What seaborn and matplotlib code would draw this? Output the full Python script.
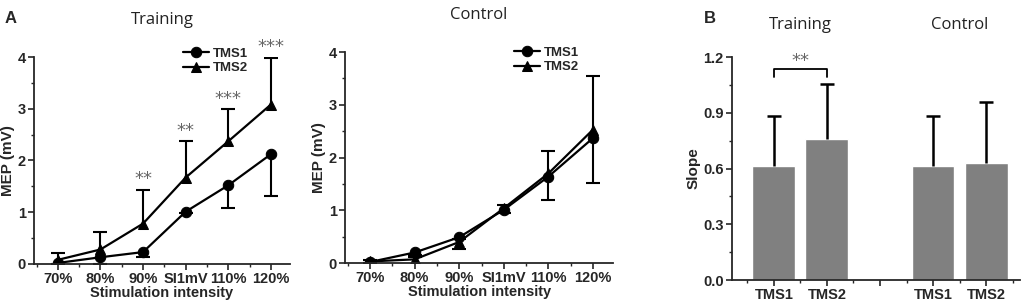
import numpy as np
import pandas as pd
import matplotlib.pyplot as plt
import seaborn as sns
from matplotlib.ticker import MultipleLocator

# ---- data ----
intensity = ["70%", "80%", "90%", "SI1mV", "110%", "120%"]

train_tms1 = [0.02, 0.13, 0.23, 1.01, 1.52, 2.12]
train_tms1_lo = [0.02, 0.13, 0.09, 0.03, 0.44, 0.81]
train_tms2 = [0.08, 0.28, 0.78, 1.67, 2.37, 3.08]
train_tms2_hi = [0.13, 0.34, 0.65, 0.70, 0.62, 0.91]
train_stars = ["", "", "**", "**", "***", "***"]

ctrl_tms1 = [0.02, 0.20, 0.49, 1.01, 1.64, 2.37]
ctrl_tms1_lo = [0.01, 0.05, 0.23, 0.06, 0.44, 0.85]
ctrl_tms2 = [0.03, 0.07, 0.40, 1.04, 1.70, 2.53]
ctrl_tms2_hi = [0.02, 0.04, 0.05, 0.06, 0.43, 1.02]

slope_groups = ["Training TMS1", "Training TMS2", "Control TMS1", "Control TMS2"]
slope_vals = [0.615, 0.76, 0.615, 0.63]
slope_err = [0.27, 0.295, 0.27, 0.33]
slope_ticklabels = ["TMS1", "TMS2", "", "TMS1", "TMS2"]

sns.set_style("ticks")
plt.rcParams['font.family'] = ['Liberation Sans', 'DejaVu Sans']
plt.rcParams['axes.linewidth'] = 1.3

fig = plt.figure(figsize=(10.21, 3.08), dpi=100)
ax1 = fig.add_axes([0.0333, 0.1429, 0.2507, 0.672])
ax2 = fig.add_axes([0.338, 0.146, 0.2625, 0.685])
ax3 = fig.add_axes([0.717, 0.0909, 0.282, 0.724])

title_font = dict(family='Open Sans', fontsize=12, color='#222222')
star_font = dict(family='DejaVu Sans', fontsize=13, color='#666666', ha='center', va='bottom')
tick_size = 10.5


def one_sided(ax, xs, ys, err, upper, lw=1.5):
    # errorbar drawn only on one side, cap only at the far end
    zeros = [0] * len(ys)
    yerr = [zeros, err] if upper else [err, zeros]
    _, caps, _ = ax.errorbar(xs, ys, yerr=yerr, fmt='none', ecolor='black',
                             elinewidth=lw, capsize=5, capthick=lw)
    caps[0 if upper else 1].set_visible(False)


def style_ticks(ax):
    ax.tick_params(which='major', length=4, width=1.2, labelsize=tick_size, pad=2)
    ax.tick_params(which='minor', length=2, width=1.0)
    for lab in ax.get_xticklabels() + ax.get_yticklabels():
        lab.set_fontweight('bold')


def mep_panel(ax, s1, lo1, s2, hi2, title, leg_x, leg_y):
    df = pd.DataFrame({
        "intensity": intensity * 2,
        "MEP": s1 + s2,
        "session": ["TMS1"] * 6 + ["TMS2"] * 6,
    })
    sns.lineplot(data=df, x="intensity", y="MEP", hue="session", style="session",
                 markers={"TMS1": "o", "TMS2": "^"}, dashes=False, sort=False,
                 palette=["black", "black"], linewidth=1.6, markersize=7.5,
                 markeredgecolor="black", ax=ax)
    xs = np.arange(len(intensity))
    one_sided(ax, xs, s1, lo1, upper=False)
    one_sided(ax, xs, s2, hi2, upper=True)
    ax.set_ylim(0, 4)
    ax.set_xlim(-0.56, 5.45)
    ax.set_xticks(xs)
    ax.set_xticklabels(intensity)
    ax.yaxis.set_major_locator(MultipleLocator(1))
    ax.yaxis.set_minor_locator(MultipleLocator(0.5))
    ax.xaxis.set_minor_locator(MultipleLocator(0.5))
    style_ticks(ax)
    ax.set_xlabel("Stimulation intensity", fontweight='bold', fontsize=10.5, labelpad=0)
    ax.set_ylabel("MEP (mV)", fontweight='bold', fontsize=11, labelpad=2)
    ax.set_title(title, pad=24, **title_font)
    sns.despine(ax=ax)
    leg = ax.legend(loc='upper left', bbox_to_anchor=(leg_x, leg_y), frameon=False,
                    handlelength=2.0, handletextpad=0.3, labelspacing=0.15,
                    borderaxespad=0, prop=dict(weight='bold', size=9.5))
    for h in leg.legend_handles:
        h.set_color('black')
    return ax


mep_panel(ax1, train_tms1, train_tms1_lo, train_tms2, train_tms2_hi, "Training", 0.56, 1.07)
for i, s in enumerate(train_stars):
    if s:
        ax1.text(i, train_tms2[i] + train_tms2_hi[i] + 0.03, s, clip_on=False, **star_font)

mep_panel(ax2, ctrl_tms1, ctrl_tms1_lo, ctrl_tms2, ctrl_tms2_hi, "Control", 0.61, 1.05)

# ---- panel B ----
bdf = pd.DataFrame({"group": slope_groups, "slope": slope_vals})
order = [slope_groups[0], slope_groups[1], " ", slope_groups[2], slope_groups[3]]
sns.barplot(data=bdf, x="group", y="slope", order=order, color="#808080",
            saturation=1, width=0.81, errorbar=None, ax=ax3)
bx = [0, 1, 3, 4]
one_sided(ax3, bx, slope_vals, slope_err, upper=True, lw=1.8)
ax3.set_ylim(0, 1.2)
ax3.set_xlim(-0.79, 4.64)
ax3.yaxis.set_major_locator(MultipleLocator(0.3))
ax3.yaxis.set_minor_locator(MultipleLocator(0.15))
ax3.set_xticks(range(5))
ax3.set_xticklabels(slope_ticklabels)
ax3.xaxis.set_minor_locator(MultipleLocator(0.5))
style_ticks(ax3)
ax3.set_xlabel("")
ax3.set_ylabel("Slope", fontweight='bold', fontsize=11, labelpad=2)
sns.despine(ax=ax3)
ax3.plot([0, 0, 1, 1], [1.09, 1.135, 1.135, 1.09], color='black', lw=1.3)
ax3.text(0.5, 1.13, "**", **star_font)
ax3.text(0.5, 1.33, "Training", ha='center', va='bottom', **title_font)
ax3.text(3.5, 1.33, "Control", ha='center', va='bottom', **title_font)

fig.text(0.004, 0.925, "A", fontsize=12, fontweight='bold')
fig.text(0.689, 0.925, "B", fontsize=12, fontweight='bold')

fig.savefig("out.png", dpi=100)
